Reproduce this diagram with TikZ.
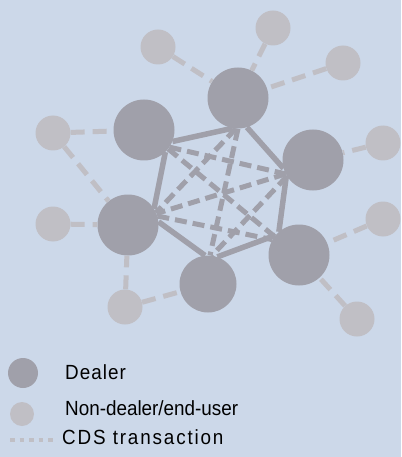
\documentclass[tikz,border=0pt]{standalone}
\usepackage{fontspec}
\setmainfont{Liberation Sans}
\definecolor{bgblue}{RGB}{204,216,233}
\definecolor{dealercol}{RGB}{160,160,170}
\definecolor{usercol}{RGB}{192,191,197}
\begin{document}
\begin{tikzpicture}[x=1pt,y=-1pt,
  dealer/.style={circle,fill=dealercol,draw=none,minimum size=61pt,inner sep=0pt},
  enduser/.style={circle,fill=usercol,draw=none,minimum size=35pt,inner sep=0pt},
  solidlink/.style={draw=dealercol,line width=5.5pt},
  dashlink/.style={draw=dealercol,line width=5pt,dash pattern=on 12pt off 6pt},
  userlink/.style={draw=usercol,line width=5pt,dash pattern=on 14pt off 8pt},
  legtext/.style={anchor=base west,inner sep=0pt,font=\fontsize{20.5}{24}\selectfont\addfontfeatures{FakeStretch=0.92},text=black}]
\fill[bgblue] (0,0) rectangle (401,457);
\useasboundingbox (0,0) rectangle (401,457);
% dealers
\node[dealer] (d1) at (238,98) {};
\node[dealer] (d2) at (144,130) {};
\node[dealer] (d3) at (313,160) {};
\node[dealer] (d4) at (128,225) {};
\node[dealer] (d5) at (299,255) {};
\node[dealer,minimum size=57pt] (d6) at (208,284) {};
% end users
\node[enduser] (n1) at (158,47) {};
\node[enduser] (n2) at (273,28) {};
\node[enduser] (n3) at (343,63) {};
\node[enduser] (n4) at (53,133) {};
\node[enduser] (n5) at (383,143) {};
\node[enduser] (n6) at (53,224) {};
\node[enduser] (n7) at (383,219) {};
\node[enduser] (n8) at (125,307) {};
\node[enduser] (n9) at (357,319) {};
% end-user links
\draw[userlink] (n1) -- (d1);
\draw[userlink] (n2) -- (d1);
\draw[userlink] (n3) -- (d1);
\draw[userlink] (n4) -- (d2);
\draw[userlink] (n4) -- (d4);
\draw[userlink] (n5) -- (d3);
\draw[userlink] (n6) -- (d4);
\draw[userlink] (n7) -- (d5);
\draw[userlink] (n8) -- (d4);
\draw[userlink] (n8) -- (d6);
\draw[userlink] (n9) -- (d5);
% dealer-dealer solid links
\draw[solidlink] (d2.-22) -- (d1.-100);
\draw[solidlink] (d1.-73) -- (d3.-164);
\draw[solidlink] (d3.-150) -- (d5.131);
\draw[solidlink] (d5.140) -- (d6.71);
\draw[solidlink] (d6.96) -- (d4.6);
\draw[solidlink] (d4.32) -- (d2.-46);
% dealer-dealer dashed links
\draw[dashlink] (d2.-34) -- (d3.-153);
\draw[dashlink] (d2.-38) -- (d5.143);
\draw[dashlink] (d1.-94) -- (d4.24);
\draw[dashlink] (d1.-90) -- (d6.86);
\draw[dashlink] (d3.-153) -- (d4.22);
\draw[dashlink] (d3.-148) -- (d6.82);
\draw[dashlink] (d4.17) -- (d5.150);
% legend
\node[dealer,minimum size=30pt] (ld) at (23,373) {};
\node[enduser,minimum size=24pt] (lu) at (22,414) {};
\coordinate (la) at (10,440);
\coordinate (lb) at (56,440);
\draw[draw=usercol,line width=4pt,dash pattern=on 4.5pt off 5pt] (la) -- (lb);
\node[legtext] (t1) at (65,379) {\addfontfeatures{LetterSpace=5}Dealer};
\node[legtext] (t2) at (65,415) {Non-dealer/end-user};
\node[legtext] (t3) at (62,444) {\addfontfeatures{LetterSpace=9}CDS transaction};
\end{tikzpicture}
\end{document}
